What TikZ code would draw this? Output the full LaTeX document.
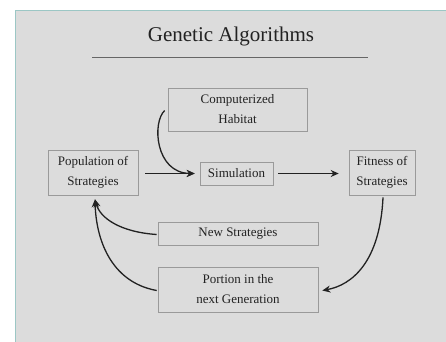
\documentclass[tikz,border=0pt]{standalone}
\usepackage{fontspec}
\setmainfont{Liberation Serif}
\usetikzlibrary{arrows.meta,calc}
\definecolor{panel}{HTML}{DCDCDC}
\definecolor{paneledge}{HTML}{9CC7C5}
\definecolor{boxedge}{HTML}{9A9A9A}
\definecolor{ink}{HTML}{222222}
\tikzset{
  stagebox/.style={draw=boxedge, line width=0.6pt, align=center, inner sep=0pt,
    text=ink, font=\fontsize{13}{20}\selectfont},
  flow/.style={draw=ink, line width=1.3pt, -{Stealth[length=8pt,width=7pt]}},
}
\begin{document}
\begin{tikzpicture}[x=1pt,y=-1pt]
\useasboundingbox (0,0) rectangle (446,341);
\fill[white] (0,0) rectangle (446,341);
\draw[fill=panel, draw=paneledge, line width=1pt] (15,10) rectangle (450,350);
\node[font=\fontsize{21}{24}\selectfont, text=ink] (title) at (231,36) {Genetic Algorithms};
\coordinate (ulA) at (92,57);
\coordinate (ulB) at (368,57);
\draw[color=gray!80!black, line width=0.7pt] (ulA) -- (ulB);

\node[stagebox, minimum width=139pt, minimum height=43pt] (hab) at (237.5,109.5) {Computerized\\Habitat};
\node[stagebox, minimum width=90pt, minimum height=45pt] (pop) at (93,172.5) {Population of\\Strategies};
\node[stagebox, minimum width=73pt, minimum height=23pt] (sim) at (236.5,173.5) {Simulation};
\node[stagebox, minimum width=66pt, minimum height=45pt] (fit) at (382,172.5) {Fitness of\\Strategies};
\node[stagebox, minimum width=160pt, minimum height=23pt] (news) at (238,233.5) {New Strategies};
\node[stagebox, minimum width=160pt, minimum height=45pt] (port) at (238,289.5) {Portion in the\\next Generation};

\draw[flow, shorten <=7pt, shorten >=5pt] (pop.east |- sim.west) -- (sim.west);
\draw[flow, shorten <=5pt, shorten >=10pt] (sim.east) -- (fit.west |- sim.east);

\coordinate (habS) at ($(hab.west)+(-3,1)$);
\coordinate (simW) at ($(sim.west)+(-5,0)$);
\draw[flow] (habS) .. controls (152,122) and (155,173) .. (simW);

\coordinate (fitS) at ($(fit.south)+(1,2)$);
\coordinate (portE) at ($(port.east)+(4,1)$);
\draw[flow] (fitS) .. controls (380,262) and (352,285) .. (portE);

\coordinate (newsW) at ($(news.west)+(-1,1)$);
\coordinate (popS) at ($(pop.south)+(2,4)$);
\draw[flow] (newsW) .. controls (120,232) and (100,218) .. (popS);

\coordinate (portW) at ($(port.west)+(-1,1)$);
\draw[flow] (portW) .. controls (110,282) and (96,238) .. (popS);
\end{tikzpicture}
\end{document}
